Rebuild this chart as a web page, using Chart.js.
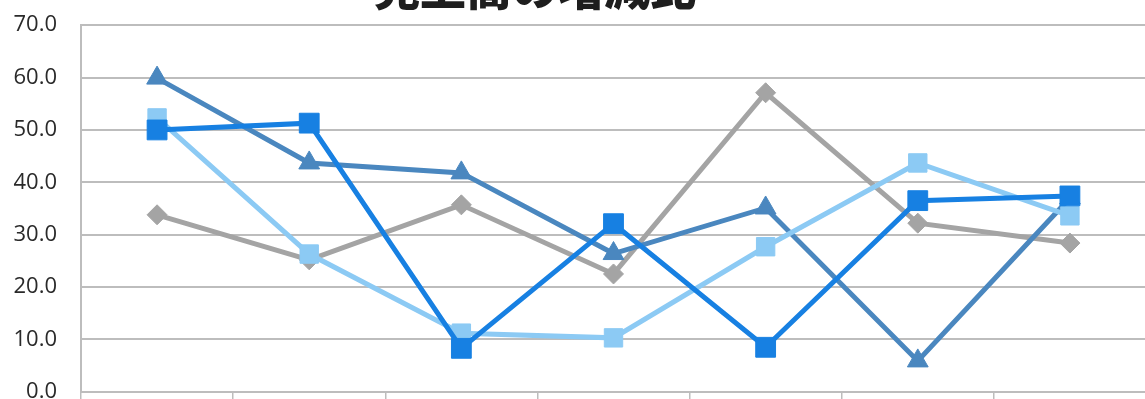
<!DOCTYPE html>
<html lang="ja">
<head>
<meta charset="utf-8">
<script src="https://cdn.jsdelivr.net/npm/chart.js@4.4.1/dist/chart.umd.min.js"></script>
<style>
    html, body { margin: 0; padding: 0; background: #fff; overflow: hidden; }
    #wrap { position: relative; width: 1145px; height: 399px; overflow: hidden; }
    #titulo {
        position: absolute; left: 374px; top: -38px;
        font-family: "Noto Sans CJK JP", sans-serif; font-weight: 900;
        font-size: 46px; line-height: 46px; color: #1e1e1e; white-space: nowrap;
    }
    canvas { position: absolute; left: 0; top: -12px; }
</style>
</head>
<body>
<div id="wrap">
    <canvas id="grafica" width="1161" height="441"></canvas>
    <div id="titulo">売上高の増減比</div>
</div>
<script>
/* categories (no labels shown on the x axis) */
const periodos = ['1', '2', '3', '4', '5', '6', '7'];

/* y axis ticks */
const eje_min  = 0;
const eje_max  = 70;
const eje_paso = 10;

/* series values */
const serie_azul    = [50.0, 51.3, 8.3, 32.1, 8.5, 36.5, 37.4];
const serie_celeste = [52.3, 26.3, 11.2, 10.3, 27.7, 43.7, 33.6];
const serie_acero   = [59.9, 43.7, 41.8, 26.4, 35.1, 5.9, 37.0];
const serie_gris    = [33.8, 25.2, 35.7, 22.5, 57.1, 32.2, 28.4];

const GRID = '#bdbdbd';

/* builds one line dataset with its marker */
function linea(datos, color, estilo, radio) {
    return {
        data: datos,
        borderColor: color,
        backgroundColor: color,
        pointBackgroundColor: color,
        pointBorderColor: color,
        pointStyle: estilo,
        pointRadius: radio,
        pointBorderWidth: 1,
        borderWidth: 5,
        tension: 0,
        fill: false
    };
}

new Chart(document.getElementById('grafica'), {
    type: 'line',
    data: {
        labels: periodos,
        /* first dataset is painted last, so it sits on top */
        datasets: [
            linea(serie_azul,    '#1780e2', 'rect', 14),
            linea(serie_celeste, '#8ccaf4', 'rect', 13),
            linea(serie_acero,   '#4a87bf', 'triangle', 12),
            linea(serie_gris,    '#a4a4a4', 'rectRot', 10)
        ]
    },
    options: {
        responsive: false,
        animation: false,
        devicePixelRatio: 1,
        layout: { padding: { top: 11, right: 2, left: 0, bottom: 0 } },
        plugins: { legend: { display: false }, tooltip: { enabled: false }, title: { display: false } },
        scales: {
            x: {
                offset: true,
                grid: { offset: true, drawOnChartArea: false, drawTicks: true, tickLength: 8, color: GRID, lineWidth: 1.5 },
                border: { color: GRID, width: 2 },
                ticks: { display: false },
                afterFit: s => { s.height = 8; }
            },
            y: {
                min: eje_min,
                max: eje_max,
                grid: { color: GRID, lineWidth: 2, drawTicks: false },
                border: { color: GRID, width: 2 },
                ticks: {
                    stepSize: eje_paso,
                    padding: 24,
                    color: '#2a2a2a',
                    font: { family: '"Open Sans"', size: 22 },
                    callback: v => v.toFixed(1)
                },
                afterFit: s => { s.width = 81; }
            }
        }
    }
});
</script>
</body>
</html>
